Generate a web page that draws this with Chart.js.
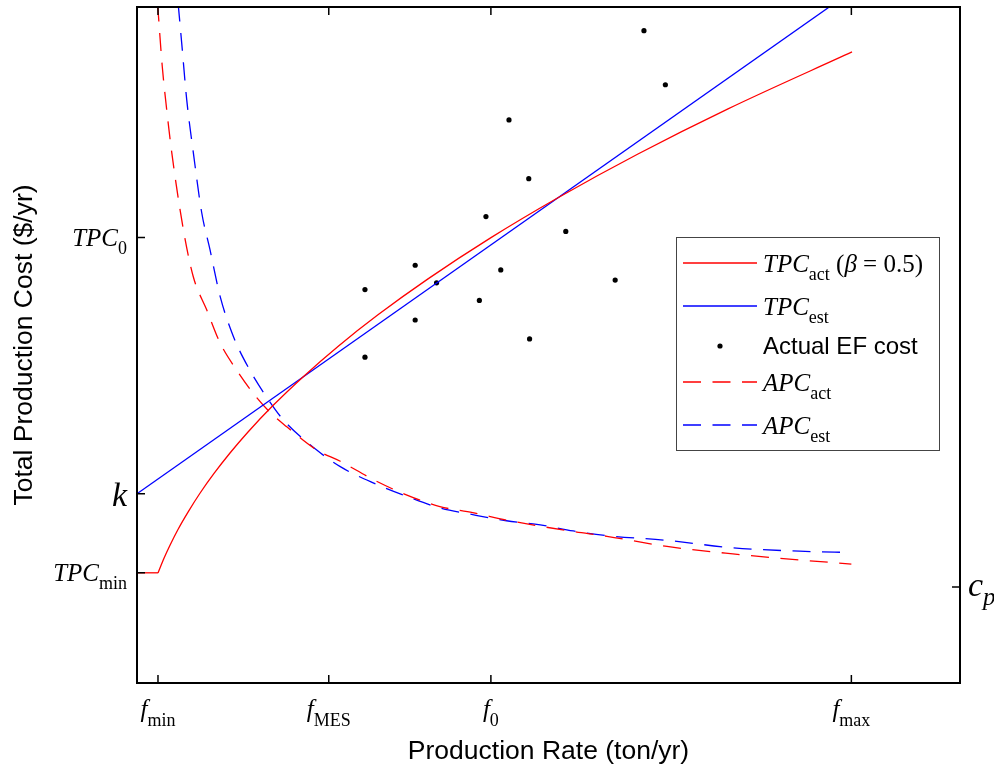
<!DOCTYPE html>
<html>
<head>
<meta charset="utf-8">
<script src="https://cdn.jsdelivr.net/npm/chart.js@4.4.1/dist/chart.umd.min.js"></script>
<style>
  html, body { margin: 0; padding: 0; background: #fff; }
  #wrap { width: 994px; height: 769px; position: relative; }
</style>
</head>
<body>
<div id="wrap"><canvas id="costChart"></canvas></div>
<script>
// Values (relative units, axis 0..100 both ways)
const tpcFloorX = [0, 2.55];
const tpcFloorY = [16.3, 16.3];

const tpcActX = [2.55, 3.28, 4.01, 4.98, 6.20, 7.65, 9.36, 11.30, 13.49, 16.52, 20.17, 24.42, 29.28, 35.36, 43.01, 51.15, 60.87, 71.81, 86.88];
const tpcActY = [16.28, 18.46, 20.38, 22.71, 25.28, 28.07, 31.0, 34.02, 37.13, 41.04, 45.28, 49.79, 54.46, 59.78, 65.88, 71.78, 78.25, 84.93, 93.35];

const tpcEstX = [0, 86.8];
const tpcEstY = [28.0, 102.3];

const apcActX = [2.5, 3.07, 3.61, 4.22, 5.63, 6.84, 8.47, 10.1, 12.1, 14.1, 16.2, 18.2, 21.8, 24.7, 28.7, 32.8, 36.8, 40.8, 44.9, 49.0, 53.0, 57.1, 64.4, 72.4, 80.5, 86.8];
const apcActY = [100.5, 91.2, 84.8, 78.5, 67.1, 60.1, 55.2, 50.3, 46.3, 42.9, 40.0, 37.9, 34.5, 32.8, 30.1, 27.8, 26.1, 25.2, 24.1, 23.2, 22.4, 21.7, 20.2, 19.1, 18.2, 17.6];

const apcEstX = [5.0, 5.43, 6.04, 6.84, 7.86, 8.87, 10.1, 11.7, 13.7, 15.8, 17.8, 21.8, 24.7, 28.7, 32.8, 36.8, 40.8, 44.9, 49.0, 53.0, 57.1, 64.4, 72.4, 80.5, 86.8];
const apcEstY = [100.5, 94.7, 86.3, 78.5, 69.6, 64.1, 57.2, 51.3, 46.3, 42.2, 38.9, 34.5, 32.0, 29.6, 27.6, 25.9, 24.9, 24.0, 23.4, 22.5, 21.8, 21.1, 20.0, 19.5, 19.3];

// actual EF cost points
const efX = [27.7, 33.8, 36.4, 27.7, 33.8, 41.6, 44.2, 47.7, 58.1, 61.6, 64.2, 42.4, 45.2, 47.6, 52.1];
const efY = [58.2, 61.8, 59.2, 48.2, 53.7, 56.6, 61.1, 50.9, 59.6, 96.5, 88.5, 69.0, 83.3, 74.6, 66.8];

// tick positions and labels (main symbol + subscript)
const xTickVals = [2.55, 23.3, 43.0, 86.8];
const xTickMain = ['f', 'f', 'f', 'f'];
const xTickSub = ['min', 'MES', '0', 'max'];

const yTickVals = [65.9, 28.0, 16.3];
const yTickMain = ['TPC', 'k', 'TPC'];
const yTickSub = ['0', '', 'min'];

const yRightTickVals = [14.2];
const yRightTickMain = ['c'];
const yRightTickSub = ['p'];

const RED = '#ff0000';
const BLUE = '#0000ff';
const SERIF = '"Liberation Serif", "Times New Roman", serif';
const SANS = '"Liberation Sans", Arial, sans-serif';

function toPoints(xs, ys) {
    return xs.map((x, i) => ({ x: x, y: ys[i] }));
}

// draws a run of text pieces (main + subscript etc.)
function drawParts(ctx, x, y, parts, align) {
    let total = 0;
    parts.forEach(p => {
        ctx.font = p.font;
        p.w = ctx.measureText(p.text).width;
        total += p.w;
    });
    let cx = x;
    if (align === 'center') cx = x - total / 2;
    else if (align === 'right') cx = x - total;
    ctx.textAlign = 'left';
    ctx.textBaseline = 'alphabetic';
    parts.forEach(p => {
        ctx.font = p.font;
        ctx.fillText(p.text, cx, y + (p.dy || 0));
        cx += p.w;
    });
}

const axesPlugin = {
    id: 'axesPlugin',
    afterDraw(chart) {
        const ctx = chart.ctx;
        const area = chart.chartArea;
        const xs = chart.scales.x;
        const ys = chart.scales.y;
        const yr = chart.scales.yRight;
        ctx.save();
        ctx.fillStyle = '#000';

        // box
        ctx.strokeStyle = '#000';
        ctx.lineWidth = 2;
        ctx.strokeRect(area.left, area.top, area.right - area.left, area.bottom - area.top);

        // ticks (inward)
        ctx.lineWidth = 1.5;
        ctx.beginPath();
        xTickVals.forEach(v => {
            const px = xs.getPixelForValue(v);
            ctx.moveTo(px, area.bottom);
            ctx.lineTo(px, area.bottom - 8);
            ctx.moveTo(px, area.top);
            ctx.lineTo(px, area.top + 8);
        });
        yTickVals.forEach(v => {
            const py = ys.getPixelForValue(v);
            ctx.moveTo(area.left, py);
            ctx.lineTo(area.left + 8, py);
        });
        yRightTickVals.forEach(v => {
            const py = yr.getPixelForValue(v);
            ctx.moveTo(area.right, py);
            ctx.lineTo(area.right - 8, py);
        });
        ctx.stroke();

        // tick labels
        xTickVals.forEach((v, i) => {
            const px = xs.getPixelForValue(v);
            drawParts(ctx, px, area.bottom + 34, [
                { text: xTickMain[i], font: 'italic 25px ' + SERIF },
                { text: xTickSub[i], font: '18px ' + SERIF, dy: 9 }
            ], 'center');
        });
        yTickVals.forEach((v, i) => {
            const py = ys.getPixelForValue(v);
            if (yTickSub[i]) {
                drawParts(ctx, area.left - 10, py + 8, [
                    { text: yTickMain[i], font: 'italic 25px ' + SERIF },
                    { text: yTickSub[i], font: '18px ' + SERIF, dy: 8 }
                ], 'right');
            } else {
                drawParts(ctx, area.left - 10, py + 12, [
                    { text: yTickMain[i], font: 'italic 34px ' + SERIF }
                ], 'right');
            }
        });
        yRightTickVals.forEach((v, i) => {
            const py = yr.getPixelForValue(v);
            drawParts(ctx, area.right + 8, py + 9, [
                { text: yRightTickMain[i], font: 'italic 34px ' + SERIF },
                { text: yRightTickSub[i], font: 'italic 25px ' + SERIF, dy: 9 }
            ], 'left');
        });

        // legend box
        const bx = area.right - 284;
        const by = area.top + 230;
        const bw = 263;
        const bh = 213;
        ctx.fillStyle = '#fff';
        ctx.fillRect(bx, by, bw, bh);
        ctx.strokeStyle = '#444';
        ctx.lineWidth = 1;
        ctx.strokeRect(bx + 0.5, by + 0.5, bw, bh);

        const rowY = [26, 69, 109, 145, 188];
        const sx0 = bx + 7, sx1 = bx + 81, tx = bx + 87;
        const rows = [
            { color: RED, dash: [], parts: [
                { text: 'TPC', font: 'italic 25px ' + SERIF },
                { text: 'act', font: '18px ' + SERIF, dy: 8 },
                { text: ' (', font: '25px ' + SERIF },
                { text: 'β', font: 'italic 25px ' + SERIF },
                { text: ' = 0.5)', font: '25px ' + SERIF }
            ] },
            { color: BLUE, dash: [], parts: [
                { text: 'TPC', font: 'italic 25px ' + SERIF },
                { text: 'est', font: '18px ' + SERIF, dy: 8 }
            ] },
            { dot: true, parts: [
                { text: 'Actual EF cost', font: '24px ' + SANS, dy: -1 }
            ] },
            { color: RED, dash: [18, 11.5], parts: [
                { text: 'APC', font: 'italic 25px ' + SERIF },
                { text: 'act', font: '18px ' + SERIF, dy: 8 }
            ] },
            { color: BLUE, dash: [18, 11.5], parts: [
                { text: 'APC', font: 'italic 25px ' + SERIF },
                { text: 'est', font: '18px ' + SERIF, dy: 8 }
            ] }
        ];
        rows.forEach((r, i) => {
            const y = by + rowY[i];
            if (r.dot) {
                ctx.fillStyle = '#000';
                ctx.beginPath();
                ctx.arc((sx0 + sx1) / 2, y, 2.6, 0, Math.PI * 2);
                ctx.fill();
            } else {
                ctx.strokeStyle = r.color;
                ctx.lineWidth = 1.3;
                ctx.setLineDash(r.dash);
                ctx.beginPath();
                ctx.moveTo(sx0, y);
                ctx.lineTo(sx1, y);
                ctx.stroke();
                ctx.setLineDash([]);
            }
            ctx.fillStyle = '#000';
            drawParts(ctx, tx, y + 9, r.parts, 'left');
        });

        ctx.restore();
    }
};

const lineStyle = {
    pointRadius: 0,
    borderWidth: 1.3,
    fill: false,
    cubicInterpolationMode: 'monotone'
};

new Chart(document.getElementById('costChart'), {
    type: 'line',
    data: {
        datasets: [
            Object.assign({ label: 'TPC_act floor', data: toPoints(tpcFloorX, tpcFloorY), borderColor: RED }, lineStyle),
            Object.assign({ label: 'TPC_act', data: toPoints(tpcActX, tpcActY), borderColor: RED }, lineStyle),
            Object.assign({ label: 'TPC_est', data: toPoints(tpcEstX, tpcEstY), borderColor: BLUE }, lineStyle),
            {
                label: 'Actual EF cost',
                data: toPoints(efX, efY),
                showLine: false,
                pointRadius: 2.6,
                pointBackgroundColor: '#000',
                pointBorderWidth: 0,
                borderColor: '#000'
            },
            Object.assign({ label: 'APC_act', data: toPoints(apcActX, apcActY), borderColor: RED, borderDash: [18, 11.5] }, lineStyle),
            Object.assign({ label: 'APC_est', data: toPoints(apcEstX, apcEstY), borderColor: BLUE, borderDash: [18, 11.5] }, lineStyle)
        ]
    },
    options: {
        responsive: true,
        maintainAspectRatio: false,
        animation: false,
        layout: { padding: { top: 7, left: 0, right: 0, bottom: 0 } },
        plugins: {
            legend: { display: false },
            tooltip: { enabled: false }
        },
        scales: {
            x: {
                type: 'linear',
                min: 0,
                max: 100,
                grid: { display: false },
                border: { display: false },
                ticks: { display: false },
                title: {
                    display: true,
                    text: 'Production Rate (ton/yr)',
                    color: '#000',
                    font: { family: SANS, size: 26.5 },
                    padding: { top: 0, bottom: 1 }
                },
                afterFit(scale) { scale.height = 86; }
            },
            y: {
                type: 'linear',
                position: 'left',
                min: 0,
                max: 100,
                grid: { display: false },
                border: { display: false },
                ticks: { display: false },
                title: {
                    display: true,
                    text: 'Total Production Cost ($/yr)',
                    color: '#000',
                    font: { family: SANS, size: 26.5 },
                    padding: { top: 9, bottom: 0 }
                },
                afterFit(scale) { scale.width = 137; }
            },
            yRight: {
                type: 'linear',
                position: 'right',
                min: 0,
                max: 100,
                grid: { display: false },
                border: { display: false },
                ticks: { display: false },
                afterFit(scale) { scale.width = 34; }
            }
        }
    },
    plugins: [axesPlugin]
});
</script>
</body>
</html>
